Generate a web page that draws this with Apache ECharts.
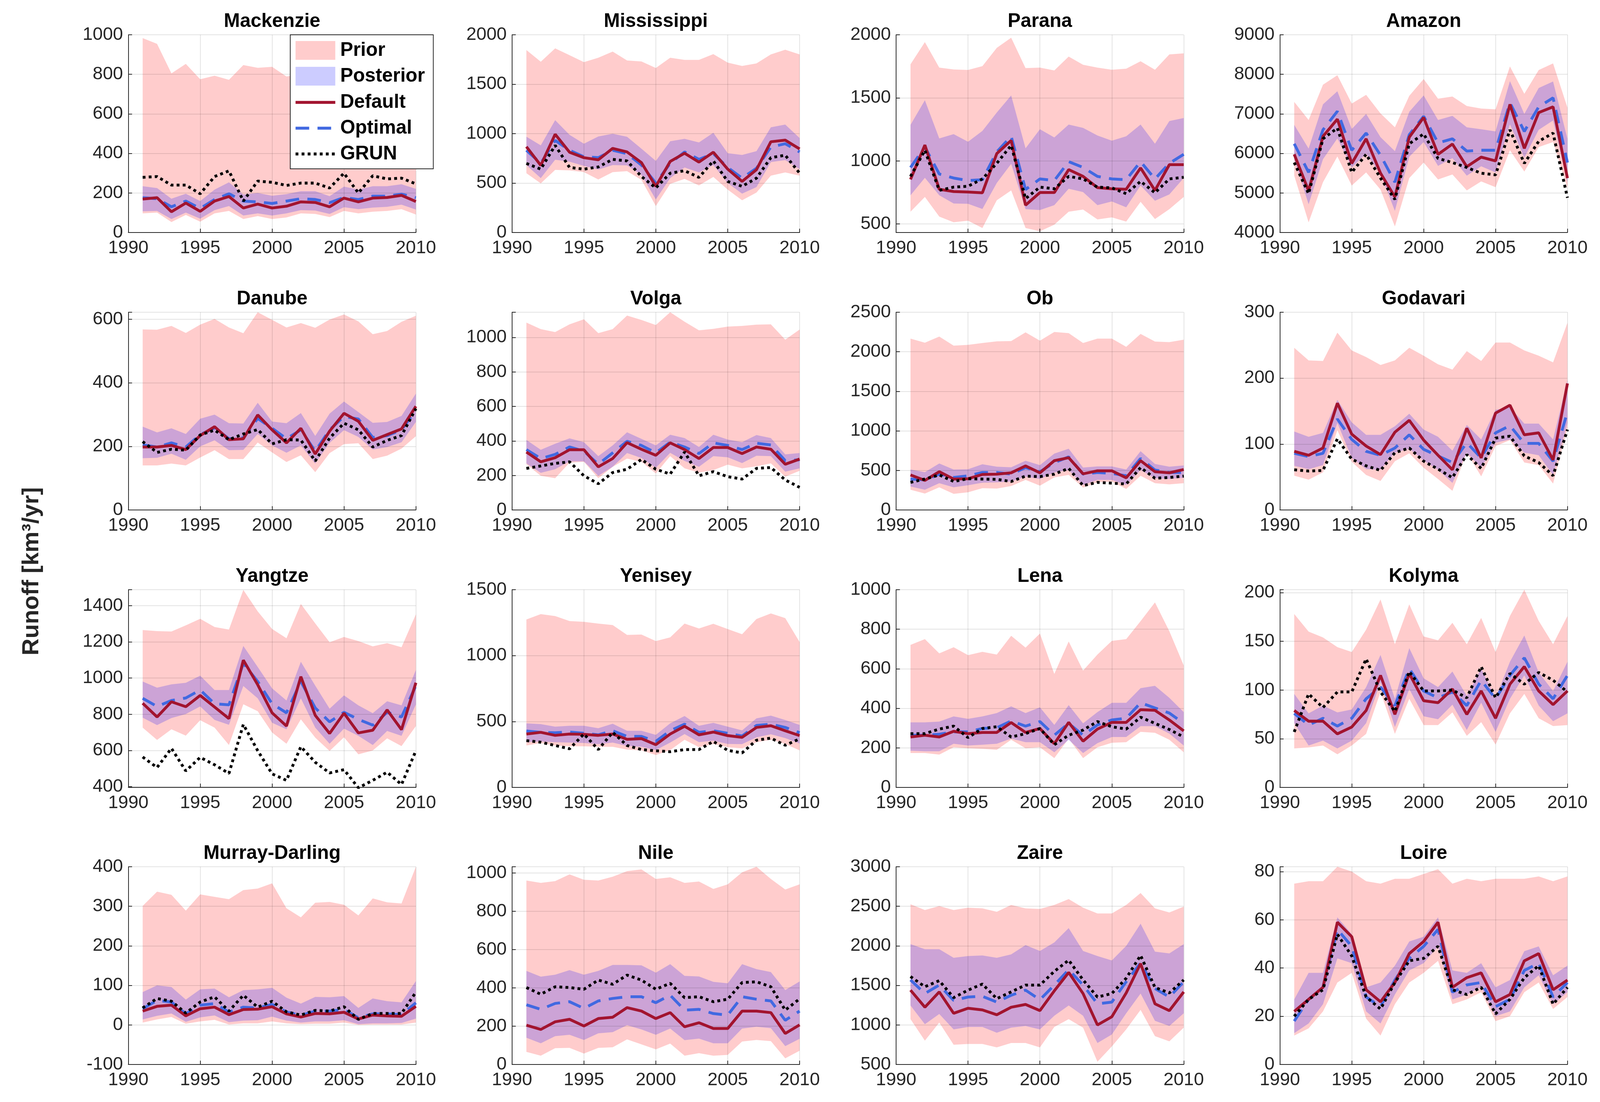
<!DOCTYPE html>
<html><head><meta charset="utf-8">
<script src="https://cdn.jsdelivr.net/npm/echarts@6/dist/echarts.min.js"></script>
<style>html,body{margin:0;padding:0;background:#fff;overflow:hidden}#c{position:absolute;left:0;top:0}</style>
</head><body><div id="c"></div>
<script>
const years = [1991,1992,1993,1994,1995,1996,1997,1998,1999,2000,2001,2002,2003,2004,2005,2006,2007,2008,2009,2010];
const riverNames = ['Mackenzie','Mississippi','Parana','Amazon','Danube','Volga','Ob','Godavari','Yangtze','Yenisey','Lena','Kolyma','Murray-Darling','Nile','Zaire','Loire'];
const yMins  = [0,0,432,4000, 0,0,0,0, 396,0,0,0, -100,0,500,0];
const yMaxs  = [1000,2000,2000,9000, 622,1146,2500,300, 1488,1500,1000,203, 400,1033,3000,82];
const ySteps = [200,500,500,1000, 200,200,500,100, 200,500,200,50, 100,200,500,20];
const legendNames = ['Prior','Posterior','Default','Optimal','GRUN'];

// Mackenzie
const mackenziePriorHi = [983,954,805,853,775,793,772,847,833,838,789,800,810,790,820,780,800,810,790,780];
const mackenziePriorLo = [97,101,53,89,55,97,109,68,83,68,76,97,94,78,109,97,105,109,118,91];
const mackenziePostHi  = [234,225,171,196,159,217,254,192,200,186,194,209,209,184,232,217,234,234,244,221];
const mackenziePostLo  = [107,109,68,101,70,113,134,86,97,86,97,113,111,94,128,118,126,130,141,116];
const mackenzieDefault = [169,176,105,149,107,159,182,124,144,124,133,155,152,130,174,155,174,177,188,157];
const mackenzieOptimal = [176,171,130,159,122,167,196,159,155,147,159,171,167,151,177,167,184,184,194,176];
const mackenzieGrun    = [279,283,240,240,196,283,312,159,260,254,238,250,250,225,300,200,287,271,275,246];
// Mississippi
const mississippiPriorHi = [1846,1727,1863,1793,1723,1768,1830,1740,1730,1664,1768,1746,1746,1804,1718,1685,1710,1801,1849,1801];
const mississippiPriorLo = [600,497,633,628,611,537,611,621,533,268,492,542,476,562,434,326,404,575,608,575];
const mississippiPostHi  = [969,881,1136,988,898,971,999,968,848,724,923,948,911,1009,802,785,823,1064,1092,956];
const mississippiPostLo  = [682,550,736,716,674,636,682,679,583,335,550,658,608,682,500,393,459,712,732,641];
const mississippiDefault = [868,679,994,812,757,736,851,815,707,467,719,802,712,812,641,517,636,918,934,845];
const mississippiOptimal = [832,700,932,832,766,757,832,798,682,500,700,815,740,798,658,550,650,865,898,815];
const mississippiGrun    = [699,641,881,658,641,663,740,724,567,451,600,625,558,724,517,467,550,757,782,600];
// Parana
const paranaPriorHi = [1766,1942,1740,1725,1721,1751,1896,1977,1736,1740,1717,1827,1762,1740,1723,1731,1790,1723,1844,1853];
const paranaPriorLo = [597,714,558,513,526,468,688,766,468,442,494,597,614,536,552,519,675,539,617,714];
const paranaPostHi  = [1286,1481,1178,1212,1152,1238,1383,1519,1100,1251,1186,1288,1262,1201,1160,1195,1288,1136,1316,1340];
const paranaPostLo  = [727,866,727,662,660,619,825,977,617,610,649,779,753,649,678,632,805,684,734,864];
const paranaDefault = [853,1126,775,757,753,747,1058,1162,649,749,749,931,877,788,779,775,944,766,970,970];
const paranaOptimal = [948,1110,896,864,844,851,1071,1195,773,857,844,994,948,877,857,851,994,857,981,1052];
const paranaGrun    = [877,1084,766,792,799,857,981,1123,701,792,779,877,857,792,786,740,838,747,857,870];
// Amazon
const amazonPriorHi = [7302,6846,7737,7977,7260,7480,7012,6660,7455,7882,7384,7438,7198,7136,7115,8200,7509,8109,8275,7157];
const amazonPriorLo = [5437,4257,5272,5922,5189,5520,5085,4153,5375,5769,5342,5467,5065,5292,5147,6080,5541,6162,6287,5127];
const amazonPostHi  = [6722,6121,7240,7571,6618,7000,6411,6059,7053,7467,6846,6950,6660,6610,6556,7828,7000,7654,7819,6370];
const amazonPostLo  = [5852,4713,5852,6379,5645,5997,5479,4547,5914,6287,5686,5880,5437,5674,5520,6734,5893,6597,6834,5272];
const amazonDefault = [5977,5052,6432,6867,5748,6370,5500,4899,6411,6908,5977,6237,5665,5906,5810,7240,6129,7032,7177,5375];
const amazonOptimal = [6245,5520,6597,7065,6080,6514,5955,5272,6473,6941,6266,6370,6059,6080,6080,7281,6556,7177,7405,5769];
const amazonGrun    = [5769,4982,6370,6640,5520,5977,5375,4837,6245,6494,5872,5769,5645,5500,5458,6597,5748,6307,6514,4878];
// Danube
const danubePriorHi = [568,567,579,557,583,601,574,556,622,598,574,588,573,599,615,593,553,563,592,611];
const danubePriorLo = [140,140,146,140,165,188,160,160,212,181,151,172,119,179,207,210,160,171,193,232];
const danubePostHi  = [262,244,257,239,287,300,273,272,337,278,273,305,233,303,341,308,274,277,296,366];
const danubePostLo  = [163,164,177,158,200,219,188,189,239,203,180,203,146,211,251,230,190,198,213,277];
const danubeDefault = [198,198,203,190,234,262,221,224,299,252,211,257,176,248,304,279,219,237,255,326];
const danubeOptimal = [205,198,211,198,237,258,224,227,288,257,224,252,185,252,294,286,228,234,252,314];
const danubeGrun    = [215,181,191,188,236,251,221,239,253,208,221,220,154,226,273,252,198,219,234,319];
// Volga
const volgaPriorHi = [1086,1048,1031,1076,1105,1025,1048,1127,1101,1072,1146,1091,1041,1050,1063,1067,1074,1076,987,1046];
const volgaPriorLo = [265,198,184,274,279,184,250,298,279,212,312,241,217,231,263,241,253,270,193,227];
const volgaPostHi  = [406,349,384,415,393,312,374,450,412,374,436,417,365,436,408,393,434,417,322,330];
const volgaPostLo  = [270,215,236,282,282,198,250,330,301,244,331,284,250,312,305,272,314,312,222,241];
const volgaDefault = [336,279,303,349,349,250,298,390,352,317,389,350,298,362,362,327,365,352,265,295];
const volgaOptimal = [350,298,322,365,341,265,331,398,374,331,393,365,327,389,374,350,387,377,286,291];
const volgaGrun    = [241,255,270,279,198,152,217,236,293,236,208,336,198,222,193,179,241,246,174,131];
// Ob
const obPriorHi = [2167,2115,2192,2078,2088,2111,2132,2136,2246,2140,2251,2236,2111,2167,2167,2063,2226,2130,2122,2153];
const obPriorLo = [256,208,287,204,224,276,270,303,380,308,411,443,283,349,360,266,432,339,324,339];
const obPostHi  = [511,478,588,511,515,578,547,540,623,567,713,775,536,551,551,511,744,582,547,563];
const obPostLo  = [297,256,339,287,312,345,349,360,422,391,474,505,318,380,380,318,505,401,391,407];
const obDefault = [443,374,484,391,395,449,453,470,557,470,623,661,457,495,495,407,623,484,470,511];
const obOptimal = [391,380,453,411,432,474,474,453,536,484,598,671,453,474,463,432,650,505,474,474];
const obGrun    = [349,391,443,360,395,391,387,360,428,422,453,526,308,349,339,328,536,401,411,428];
// Godavari
const godavariPriorHi = [246,227,226,269,242,232,220,227,246,234,221,213,241,226,254,254,242,234,224,284];
const godavariPriorLo = [52,46,57,121,73,53,44,74,86,64,47,29,87,51,97,106,72,68,40,124];
const godavariPostHi  = [119,111,117,167,133,114,114,127,146,122,111,90,129,107,152,156,131,131,107,197];
const godavariPostLo  = [67,62,68,132,79,62,61,87,93,75,61,41,87,64,102,107,87,83,53,132];
const godavariDefault = [89,83,94,162,115,97,84,118,136,106,83,61,124,79,147,159,114,117,76,192];
const godavariOptimal = [86,81,86,138,107,89,83,94,114,92,82,72,102,79,117,128,101,101,74,149];
const godavariGrun    = [61,59,60,108,77,67,60,87,94,74,62,49,84,63,109,112,82,72,52,122];
// Yangtze
const yangtzePriorHi = [1265,1259,1257,1291,1327,1282,1268,1487,1368,1271,1220,1409,1302,1198,1227,1204,1175,1193,1170,1352];
const yangtzePriorLo = [726,658,717,682,767,726,630,855,817,699,637,772,671,597,673,579,600,667,624,735];
const yangtzePostHi  = [981,947,965,974,1013,934,934,1177,1061,943,876,1090,958,831,904,849,806,872,849,1045];
const yangtzePostLo  = [781,740,779,801,843,769,742,956,888,753,717,888,726,637,721,681,630,708,681,854];
const yangtzeDefault = [861,785,869,842,904,840,776,1099,963,808,735,1008,794,694,806,697,712,824,715,974];
const yangtzeOptimal = [888,843,876,890,934,858,852,1081,981,858,808,981,835,758,811,772,740,811,785,958];
const yangtzeGrun    = [564,506,612,487,562,521,473,744,599,471,435,621,535,476,494,394,435,480,412,599];
// Yenisey
const yeniseyPriorHi = [1274,1315,1300,1262,1256,1243,1232,1157,1160,1110,1138,1243,1206,1241,1201,1162,1278,1320,1284,1103];
const yeniseyPriorLo = [318,337,318,312,312,308,308,287,281,246,283,362,305,330,305,296,343,362,330,281];
const yeniseyPostHi  = [486,480,461,468,468,449,483,430,430,399,486,542,468,490,461,433,524,545,511,474];
const yeniseyPostLo  = [343,349,343,340,337,328,340,315,308,283,340,405,343,355,330,328,380,403,374,333];
const yeniseyDefault = [405,418,395,405,403,395,405,365,370,324,405,464,399,420,393,380,455,468,430,393];
const yeniseyOptimal = [428,418,415,420,411,399,430,387,387,349,430,480,418,430,411,390,470,480,455,415];
const yeniseyGrun    = [355,343,318,293,405,287,418,318,287,278,271,287,287,349,281,262,358,374,320,368];
// Lena
const lenaPriorHi = [721,750,678,709,669,686,672,767,707,778,574,738,591,672,741,750,841,936,790,617];
const lenaPriorLo = [174,174,166,203,198,195,190,241,198,203,148,247,148,203,226,229,281,276,241,178];
const lenaPostHi  = [329,329,333,359,347,359,376,410,376,405,316,416,324,381,428,428,502,514,453,381];
const lenaPostLo  = [186,183,183,221,212,216,221,247,229,229,178,241,174,224,255,255,310,310,272,212];
const lenaDefault = [255,264,255,284,272,278,278,328,278,298,221,329,234,295,329,329,393,390,341,286];
const lenaOptimal = [264,264,269,281,281,298,302,336,310,333,264,324,264,316,341,350,428,402,376,324];
const lenaGrun    = [272,272,295,310,252,298,307,255,272,298,216,264,290,333,307,295,355,324,293,255];
// Kolyma
const kolymaPriorHi = [178,160,154,144,139,162,193,147,188,155,151,169,147,174,139,176,203,171,147,176];
const kolymaPriorLo = [40,41,43,34,43,55,98,55,91,64,64,77,53,67,44,76,96,71,63,64];
const kolymaPostHi  = [96,76,84,77,80,103,136,91,143,112,103,119,94,122,92,129,156,118,99,129];
const kolymaPostLo  = [66,43,48,40,48,66,108,62,101,73,70,85,59,87,57,91,115,84,68,76];
const kolymaDefault = [79,68,68,55,62,79,115,75,117,89,87,101,75,99,71,106,124,99,85,99];
const kolymaOptimal = [76,64,71,63,71,91,103,84,122,99,92,98,84,110,91,115,133,106,91,115];
const kolymaGrun    = [57,96,82,98,98,132,98,78,119,99,99,100,92,124,92,117,106,118,110,98];
// Murray-Darling
const murrayPriorHi = [301,337,329,289,330,324,318,341,345,358,295,272,309,311,304,277,320,310,307,400];
const murrayPriorLo = [6,14,20,3,9,13,1,4,4,9,4,2,3,3,6,0,1,1,1,6];
const murrayPostHi  = [83,100,96,64,90,92,70,88,90,94,69,54,71,70,73,43,67,60,57,111];
const murrayPostLo  = [14,23,29,8,19,24,7,11,12,21,11,6,9,9,12,2,4,4,5,16];
const murrayDefault = [35,47,50,23,41,45,26,39,40,46,28,20,29,28,32,15,25,23,22,47];
const murrayOptimal = [41,62,58,28,50,54,33,45,43,52,33,24,35,35,39,18,28,28,26,56];
const murrayGrun    = [43,67,60,30,58,71,35,75,45,60,33,25,37,35,46,14,29,29,29,83];
// Nile
const nilePriorHi = [961,949,958,993,965,961,981,1010,1019,969,978,949,956,917,941,1004,1033,969,914,941];
const nilePriorLo = [66,46,85,87,57,87,90,131,105,79,109,46,59,46,50,120,128,122,32,72];
const nilePostHi  = [489,459,469,493,469,489,520,520,518,480,524,463,460,432,424,524,498,483,389,434];
const nilePostLo  = [140,111,148,155,128,163,169,205,183,155,188,127,135,111,111,188,197,190,96,134];
const nileDefault = [205,183,223,236,201,240,247,297,279,240,271,197,218,188,188,279,279,271,162,207];
const nileOptimal = [312,288,319,328,293,332,345,354,354,323,362,284,288,266,258,354,341,332,231,279];
const nileGrun    = [402,367,406,402,393,441,419,467,441,393,424,349,354,328,341,428,432,406,284,343];
// Zaire
const zairePriorHi = [2526,2453,2504,2453,2483,2474,2431,2517,2474,2466,2517,2591,2483,2409,2409,2517,2668,2474,2422,2496];
const zairePriorLo = [1073,802,1030,750,759,759,716,772,772,716,974,1073,966,534,728,944,1190,858,793,966];
const zairePostHi  = [2022,1957,1957,1849,1871,1879,1849,1892,2009,1935,2043,2224,1935,1871,1815,2000,2280,1927,1905,2022];
const zairePostLo  = [1246,1009,1138,944,974,974,901,966,987,944,1116,1246,1116,772,879,1147,1397,1052,987,1147];
const zaireDefault = [1440,1224,1418,1147,1211,1190,1129,1224,1259,1181,1431,1664,1397,1000,1103,1405,1776,1267,1181,1418];
const zaireOptimal = [1569,1397,1504,1310,1353,1362,1289,1375,1440,1319,1504,1698,1504,1267,1289,1547,1784,1461,1353,1547];
const zaireGrun    = [1612,1483,1560,1345,1440,1517,1332,1418,1504,1504,1677,1819,1569,1353,1397,1591,1879,1474,1405,1569];
// Loire
const loirePriorHi = [75,76,76,82,80,76,75,77,77,79,81,75,77,76,77,77,77,78,76,78];
const loirePriorLo = [12,15,22,34,38,19,12,25,34,38,43,25,27,30,18,20,30,34,23,28];
const loirePostHi  = [27,38,38,61,54,32,34,41,51,53,61,39,38,42,32,35,47,49,37,41];
const loirePostLo  = [13,17,25,44,42,22,17,29,39,42,49,27,29,32,20,22,32,37,25,30];
const loireDefault = [22,27,32,59,53,31,26,34,46,51,59,32,36,38,26,29,43,46,31,35];
const loireOptimal = [18,27,32,56,49,28,24,35,44,49,56,30,33,34,24,27,39,42,28,34];
const loireGrun    = [20,27,31,54,45,28,23,34,43,44,49,31,29,32,21,27,36,41,25,32];

const riverData = [
  [mackenziePriorLo, mackenziePriorHi, mackenziePostLo, mackenziePostHi, mackenzieDefault, mackenzieOptimal, mackenzieGrun],
  [mississippiPriorLo, mississippiPriorHi, mississippiPostLo, mississippiPostHi, mississippiDefault, mississippiOptimal, mississippiGrun],
  [paranaPriorLo, paranaPriorHi, paranaPostLo, paranaPostHi, paranaDefault, paranaOptimal, paranaGrun],
  [amazonPriorLo, amazonPriorHi, amazonPostLo, amazonPostHi, amazonDefault, amazonOptimal, amazonGrun],
  [danubePriorLo, danubePriorHi, danubePostLo, danubePostHi, danubeDefault, danubeOptimal, danubeGrun],
  [volgaPriorLo, volgaPriorHi, volgaPostLo, volgaPostHi, volgaDefault, volgaOptimal, volgaGrun],
  [obPriorLo, obPriorHi, obPostLo, obPostHi, obDefault, obOptimal, obGrun],
  [godavariPriorLo, godavariPriorHi, godavariPostLo, godavariPostHi, godavariDefault, godavariOptimal, godavariGrun],
  [yangtzePriorLo, yangtzePriorHi, yangtzePostLo, yangtzePostHi, yangtzeDefault, yangtzeOptimal, yangtzeGrun],
  [yeniseyPriorLo, yeniseyPriorHi, yeniseyPostLo, yeniseyPostHi, yeniseyDefault, yeniseyOptimal, yeniseyGrun],
  [lenaPriorLo, lenaPriorHi, lenaPostLo, lenaPostHi, lenaDefault, lenaOptimal, lenaGrun],
  [kolymaPriorLo, kolymaPriorHi, kolymaPostLo, kolymaPostHi, kolymaDefault, kolymaOptimal, kolymaGrun],
  [murrayPriorLo, murrayPriorHi, murrayPostLo, murrayPostHi, murrayDefault, murrayOptimal, murrayGrun],
  [nilePriorLo, nilePriorHi, nilePostLo, nilePostHi, nileDefault, nileOptimal, nileGrun],
  [zairePriorLo, zairePriorHi, zairePostLo, zairePostHi, zaireDefault, zaireOptimal, zaireGrun],
  [loirePriorLo, loirePriorHi, loirePostLo, loirePostHi, loireDefault, loireOptimal, loireGrun]
];

// ---- layout (reference designed at 4228 x 2820, scaled to the actual viewport) ----
const W = window.innerWidth || document.documentElement.clientWidth || 4228;
const H = window.innerHeight || document.documentElement.clientHeight || 2820;
const SX = W / 4228, SY = H / 2820, S = Math.min(SX, SY);
const X = v => v * SX, Y = v => v * SY, F = v => v * S;
const el = document.getElementById('c');
el.style.width = W + 'px'; el.style.height = H + 'px';

const FONT = '"Liberation Sans", Arial, Helvetica, sans-serif';
const AX = '#262626';
const GRIDC = 'rgba(0,0,0,0.11)';
const PRIOR_C = 'rgba(255,0,0,0.2)';
const POST_C = 'rgba(0,0,255,0.2)';
const DEF_C = '#A2142F';
const OPT_C = '#4169E1';
const GRUN_C = '#000000';
const LW = F(7.5);
const OPT_DASH = [F(36), F(22)];
const GRUN_DASH = [F(7.5), F(8.5)];

const colLeft = [339, 1353, 2368, 3382];
const rowTop = [89, 799, 1509, 2218];
const GW = 760, GH = 506;

function bandRenderer(lo, hi, color) {
  return function (params, api) {
    if (params.dataIndex !== 0) return null;
    const pts = [];
    for (let k = 0; k < years.length; k++) pts.push(api.coord([years[k], hi[k]]));
    for (let k = years.length - 1; k >= 0; k--) pts.push(api.coord([years[k], lo[k]]));
    return { type: 'polygon', shape: { points: pts }, style: { fill: color } };
  };
}

const grids = [], xAxes = [], yAxes = [], series = [], graphics = [];
riverNames.forEach((name, i) => {
  const r = Math.floor(i / 4), c = i % 4;
  grids.push({ left: X(colLeft[c]), top: Y(rowTop[r]), width: X(GW), height: Y(GH), containLabel: false });
  xAxes.push({
    gridIndex: i, type: 'value', min: 1990, max: 2010, interval: 5, z: 2,
    axisLine: { show: true, onZero: false, lineStyle: { color: AX, width: F(2) } },
    axisTick: { show: true, inside: true, length: F(10), lineStyle: { color: AX, width: F(2) } },
    axisLabel: { formatter: v => String(v), fontSize: F(48), color: AX, margin: F(17), fontFamily: FONT },
    splitLine: { show: true, lineStyle: { color: GRIDC, width: F(2) } }
  });
  const step = ySteps[i], mn = yMins[i], mx = yMaxs[i];
  const ya = {
    gridIndex: i, type: 'value', min: mn, max: mx, z: 2,
    axisLine: { show: true, onZero: false, lineStyle: { color: AX, width: F(2) } },
    axisTick: { show: true, inside: true, length: F(10), lineStyle: { color: AX, width: F(2) } },
    axisLabel: {
      formatter: v => (Math.abs(v / step - Math.round(v / step)) < 1e-6 ? String(v) : ''),
      fontSize: F(48), color: AX, margin: F(14), fontFamily: FONT
    },
    splitLine: { show: true, lineStyle: { color: GRIDC, width: F(2) } }
  };
  if (mn % step === 0) { ya.interval = step; } else { ya.minInterval = step; ya.maxInterval = step; }
  yAxes.push(ya);

  const d = riverData[i];
  series.push({
    type: 'custom', name: 'Prior', xAxisIndex: i, yAxisIndex: i, z: 1, silent: true,
    renderItem: bandRenderer(d[0], d[1], PRIOR_C),
    data: years.map((y, k) => [y, d[0][k], d[1][k]]), encode: { x: 0, y: [1, 2] },
    itemStyle: { color: PRIOR_C }
  });
  series.push({
    type: 'custom', name: 'Posterior', xAxisIndex: i, yAxisIndex: i, z: 1, silent: true,
    renderItem: bandRenderer(d[2], d[3], POST_C),
    data: years.map((y, k) => [y, d[2][k], d[3][k]]), encode: { x: 0, y: [1, 2] },
    itemStyle: { color: POST_C }
  });
  series.push({
    type: 'line', name: 'Optimal', xAxisIndex: i, yAxisIndex: i, z: 3, symbol: 'none', silent: true,
    data: years.map((y, k) => [y, d[5][k]]),
    lineStyle: { color: OPT_C, width: LW, type: OPT_DASH }, itemStyle: { color: OPT_C }
  });
  series.push({
    type: 'line', name: 'Default', xAxisIndex: i, yAxisIndex: i, z: 4, symbol: 'none', silent: true,
    data: years.map((y, k) => [y, d[4][k]]),
    lineStyle: { color: DEF_C, width: LW }, itemStyle: { color: DEF_C }
  });
  series.push({
    type: 'line', name: 'GRUN', xAxisIndex: i, yAxisIndex: i, z: 5, symbol: 'none', silent: true,
    data: years.map((y, k) => [y, d[6][k]]),
    lineStyle: { color: GRUN_C, width: LW, type: GRUN_DASH }, itemStyle: { color: GRUN_C }
  });
  graphics.push({
    type: 'text', x: X(colLeft[c] + GW / 2), y: Y(rowTop[r] - 34), z: 10,
    style: { text: name, font: 'bold ' + F(51) + 'px ' + FONT, fill: '#000', align: 'center', verticalAlign: 'middle', textAlign: 'center', textVerticalAlign: 'middle' }
  });
});

// y-axis title
graphics.push({
  type: 'text', x: X(84), y: Y(1462), rotation: Math.PI / 2, z: 10,
  style: { text: 'Runoff [km³/yr]', font: 'bold ' + F(62) + 'px ' + FONT, fill: '#262626', align: 'center', verticalAlign: 'middle', textAlign: 'center', textVerticalAlign: 'middle' }
});

// legend box (drawn inside the Mackenzie panel)
const LG = { left: 767, top: 89, width: 378, height: 343, swX: 781, swW: 105, swH: 48, textX: 899, rows: [129, 195, 262, 328, 394] };
graphics.push({ type: 'rect', z: 20, shape: { x: X(LG.left), y: Y(LG.top), width: X(LG.width), height: Y(LG.height) },
  style: { fill: '#ffffff', stroke: AX, lineWidth: F(2) } });
graphics.push({ type: 'rect', z: 21, shape: { x: X(LG.swX), y: Y(LG.rows[0] - LG.swH / 2), width: X(LG.swW), height: Y(LG.swH) }, style: { fill: PRIOR_C } });
graphics.push({ type: 'rect', z: 21, shape: { x: X(LG.swX), y: Y(LG.rows[1] - LG.swH / 2), width: X(LG.swW), height: Y(LG.swH) }, style: { fill: POST_C } });
graphics.push({ type: 'line', z: 21, shape: { x1: X(LG.swX), y1: Y(LG.rows[2]), x2: X(LG.swX + LG.swW), y2: Y(LG.rows[2]) }, style: { stroke: DEF_C, lineWidth: LW } });
graphics.push({ type: 'line', z: 21, shape: { x1: X(LG.swX), y1: Y(LG.rows[3]), x2: X(LG.swX + LG.swW), y2: Y(LG.rows[3]) }, style: { stroke: OPT_C, lineWidth: LW, lineDash: OPT_DASH } });
graphics.push({ type: 'line', z: 21, shape: { x1: X(LG.swX), y1: Y(LG.rows[4]), x2: X(LG.swX + LG.swW), y2: Y(LG.rows[4]) }, style: { stroke: GRUN_C, lineWidth: LW, lineDash: GRUN_DASH } });
legendNames.forEach((n, k) => {
  graphics.push({ type: 'text', z: 21, x: X(LG.textX), y: Y(LG.rows[k]),
    style: { text: n, font: 'bold ' + F(51) + 'px ' + FONT, fill: '#000', align: 'left', verticalAlign: 'middle', textAlign: 'left', textVerticalAlign: 'middle' } });
});

const chart = echarts.init(el, null, { renderer: 'canvas', width: W, height: H });
chart.setOption({
  animation: false,
  backgroundColor: '#ffffff',
  grid: grids, xAxis: xAxes, yAxis: yAxes, series: series,
  graphic: graphics
});
</script></body></html>
